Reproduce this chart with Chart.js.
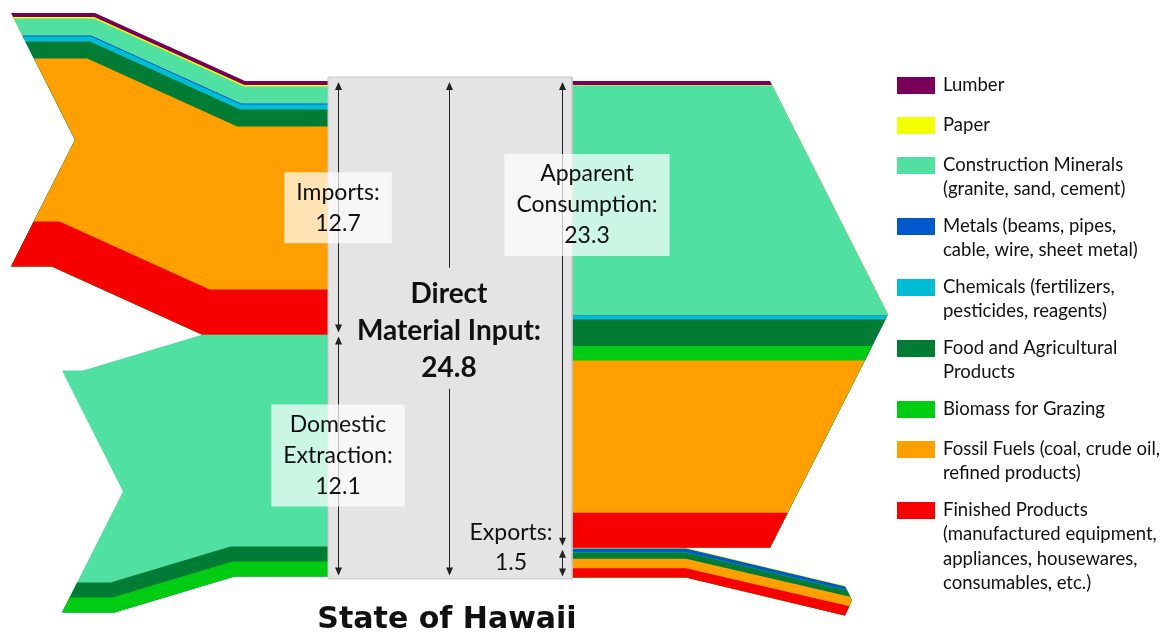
<!DOCTYPE html>
<html>
<head>
<meta charset="utf-8">
<script src="https://cdn.jsdelivr.net/npm/chart.js@4.4.0/dist/chart.umd.min.js"></script>
<style>
  html,body{margin:0;padding:0;background:#fff;overflow:hidden}
  #wrap{position:relative;width:1169px;height:635px}
</style>
</head>
<body>
<div id="wrap"><canvas id="flow" width="1169" height="635"></canvas></div>
<script>
/* 夏威夷州物质流：进口 + 本地开采 = 直接物质投入 = 表观消费 + 出口（百万吨） */
const categories = ["Lumber","Paper","Construction Minerals","Metals","Chemicals",
  "Food and Agricultural Products","Biomass for Grazing","Fossil Fuels","Finished Products"];
const legendLabels = [
  ["Lumber"],
  ["Paper"],
  ["Construction Minerals","(granite, sand, cement)"],
  ["Metals (beams, pipes,","cable, wire, sheet metal)"],
  ["Chemicals (fertilizers,","pesticides, reagents)"],
  ["Food and Agricultural","Products"],
  ["Biomass for Grazing"],
  ["Fossil Fuels (coal, crude oil,","refined products)"],
  ["Finished Products","(manufactured equipment,","appliances, housewares,","consumables, etc.)"]
];
const colors = ["#78005a","#f4ff00","#50e0a2","#0059cc","#00bcd4","#007c35","#00cc14","#ffa000","#f70000"];

// 各类物质量（百万吨），顺序同 categories
const imports     = [0.2, 0.075, 0.85, 0.05, 0.25, 0.85, 0, 8.15, 2.25];
const domestic    = [0, 0, 10.6, 0, 0, 0.75, 0.75, 0, 0];
const consumption = [0.2, 0.02, 11.5, 0.03, 0.17, 1.33, 0.72, 7.62, 1.75];
const exported    = [0, 0.03, 0, 0.19, 0.01, 0.32, 0, 0.47, 0.46];

const sum = a => a.reduce((s,v)=>s+v,0);
const I = sum(imports), D = sum(domestic), C = sum(consumption), E = sum(exported);
const fmt = v => v.toFixed(1);

// 版式（像素 / 百万吨）
const PX = 20, TOP_PX = 81;
const COL_L = 335, COL_R = 565;
const IMP = {x0:11, notch:64, bend1:95, bend2:245, rise:3.4, skew:-3.4};
const DOM = {x0:62, notch:61, bend1:83, bend2:203, drop:1.8, skew:2.6};
const CON = {base:770, tip:118};
const EXP = {bend:686, end:845, tip:7, drop:1.9};
const CONS_LABEL = 6.2;

function impPoly(a, b){
  const h = I/2, L = c => IMP.x0 + IMP.notch*(1 - Math.abs(c-h)/h);
  const edge = c => [[L(c), c-IMP.rise],[IMP.bend1+IMP.skew*c, c-IMP.rise],[IMP.bend2+IMP.skew*c, c],[COL_L, c]];
  const pts = edge(a).concat(edge(b).reverse());
  if(a < h && b > h) pts.push([IMP.x0+IMP.notch, h-IMP.rise]);
  return pts;
}
function domPoly(a, b){
  const h = D/2, L = c => DOM.x0 + DOM.notch*(1 - Math.abs(c-h)/h);
  const edge = c => [[L(c), I+c+DOM.drop],[DOM.bend1+DOM.skew*c, I+c+DOM.drop],[DOM.bend2+DOM.skew*c, I+c],[COL_L, I+c]];
  const pts = edge(a).concat(edge(b).reverse());
  if(a < h && b > h) pts.push([DOM.x0+DOM.notch, I+h+DOM.drop]);
  return pts;
}
function conPoly(a, b){
  const h = C/2, R = c => CON.base + CON.tip*(1 - Math.abs(c-h)/h);
  const pts = [[COL_R,a],[R(a),a]];
  if(a < h && b > h) pts.push([CON.base+CON.tip, h]);
  pts.push([R(b),b],[COL_R,b]);
  return pts;
}
function expPoly(a, b){
  const h = E/2, R = c => EXP.end + EXP.tip*(1 - Math.abs(c-h)/h);
  const pts = [[COL_R,C+a],[EXP.bend,C+a],[R(a),C+a+EXP.drop]];
  if(a < h && b > h) pts.push([EXP.end+EXP.tip, C+h+EXP.drop]);
  pts.push([R(b),C+b+EXP.drop],[EXP.bend,C+b],[COL_R,C+b]);
  return pts;
}

// 每个色带从自身顶部画到流的底部，后画的覆盖前面的，避免接缝
function bands(values, poly, name){
  const total = sum(values), out = [];
  let top = 0;
  values.forEach((v,k)=>{
    if(v > 0){
      out.push({
        label: name+" "+categories[k], type:"line",
        data: poly(top, total).map(p=>({x:p[0], y:p[1]})),
        fill:"shape", backgroundColor: colors[k],
        borderColor:"rgba(0,0,0,0)", borderWidth:0, pointRadius:0, order:100-k
      });
    }
    top += v;
  });
  return out;
}

const boxTop = -0.2, boxBot = I + D + 0.12;
const datasets = [].concat(
  bands(imports, impPoly, "Imports"),
  bands(domestic, domPoly, "Domestic"),
  bands(consumption, conPoly, "Consumption"),
  bands(exported, expPoly, "Exports"),
  [{label:"DMI", type:"line",
    data:[{x:328,y:boxTop},{x:572,y:boxTop},{x:572,y:boxBot},{x:328,y:boxBot},{x:328,y:boxTop}],
    fill:"shape", backgroundColor:"#e4e4e4", borderColor:"#c8c8c8", borderWidth:1, pointRadius:0, order:1}]
);

const overlay = {
  id:"overlay",
  afterDatasetsDraw(chart){
    const ctx = chart.ctx, sy = chart.scales.y;
    const py = v => sy.getPixelForValue(v);
    ctx.save();

    // 双向箭头
    ctx.strokeStyle = "#222"; ctx.fillStyle = "#222"; ctx.lineWidth = 1;
    function head(x, y, dir){
      ctx.beginPath(); ctx.moveTo(x, y);
      ctx.lineTo(x-3.5, y-dir*8); ctx.lineTo(x+3.5, y-dir*8); ctx.closePath(); ctx.fill();
    }
    function arrow(x, y1, y2, gap){
      ctx.beginPath();
      if(gap){ ctx.moveTo(x,y1+4); ctx.lineTo(x,gap[0]); ctx.moveTo(x,gap[1]); ctx.lineTo(x,y2-4); }
      else { ctx.moveTo(x,y1+4); ctx.lineTo(x,y2-4); }
      ctx.stroke();
      head(x, y1, -1); head(x, y2, 1);
    }
    const mid = py((I+D)/2);
    arrow(338.5, py(0)+1, py(I)-2);
    arrow(338.5, py(I)+2, py(I+D)-1);
    arrow(449.5, py(0)+1, py(I+D)-1, [mid-61, mid+60]);
    arrow(562.5, py(0)+1, py(C)-2);
    arrow(562.5, py(C)+2, py(C+E)-1);

    // 半透明标签框
    ctx.textAlign = "center"; ctx.textBaseline = "middle";
    function label(cx, cy, lines){
      ctx.font = "23px Lato";
      const w = Math.max(...lines.map(t=>ctx.measureText(t).width)) + 24;
      const h = lines.length*31 + 9;
      ctx.fillStyle = "rgba(255,255,255,0.7)";
      ctx.fillRect(cx-w/2, cy-h/2, w, h);
      ctx.fillStyle = "#111";
      lines.forEach((t,i)=>ctx.fillText(t, cx, cy + (i-(lines.length-1)/2)*31));
    }
    label(338, py(I/2), ["Imports:", fmt(I)]);
    label(338, py(I+D/2), ["Domestic","Extraction:", fmt(D)]);
    label(587, py(CONS_LABEL), ["Apparent","Consumption:", fmt(C)]);

    ctx.fillStyle = "#111";
    ctx.font = "23px Lato";
    ctx.fillText("Exports:", 511, py(C+E)-45);
    ctx.fillText(fmt(E), 511, py(C+E)-15);

    ctx.font = "bold 28px Lato";
    ["Direct","Material Input:", fmt(I+D)].forEach((t,i)=>ctx.fillText(t, 449, mid+2+(i-1)*37));

    ctx.font = "bold 30px 'DejaVu Sans'";
    ctx.fillText("State of Hawaii", 447, 620);

    // 图例
    ctx.textAlign = "left";
    let y = 77;
    legendLabels.forEach((lines,i)=>{
      ctx.fillStyle = colors[i];
      ctx.fillRect(897, y, 38, 17);
      ctx.fillStyle = "#111";
      ctx.font = "18.5px Lato";
      lines.forEach((t,j)=>ctx.fillText(t, 943, y+8 + j*24.5));
      y += 19 + 21*lines.length;
    });
    ctx.restore();
  }
};

new Chart(document.getElementById("flow").getContext("2d"), {
  type:"line",
  data:{datasets},
  options:{
    responsive:false, animation:false, events:[],
    layout:{padding:0, autoPadding:false},
    plugins:{legend:{display:false}, tooltip:{enabled:false}},
    scales:{
      x:{type:"linear", display:false, min:0, max:1169},
      y:{type:"linear", display:false, reverse:true, min:-TOP_PX/PX, max:(635-TOP_PX)/PX}
    }
  },
  plugins:[overlay]
});
</script>
</body>
</html>
